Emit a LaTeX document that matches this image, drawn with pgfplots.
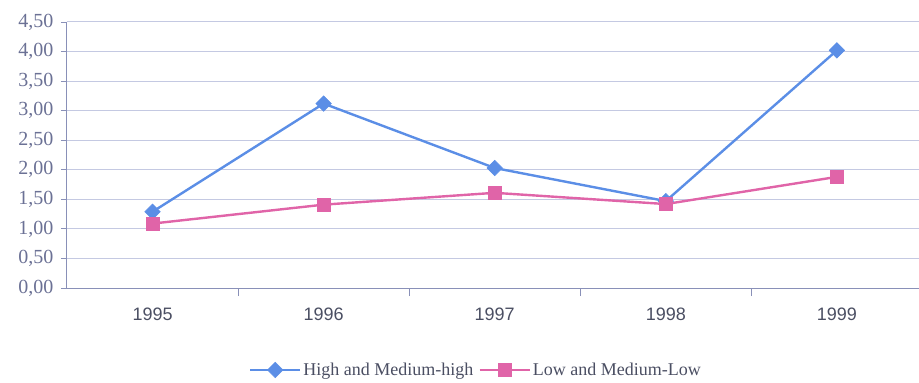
\documentclass[border=0pt]{standalone}
\usepackage{pgfplots}
\pgfplotsset{compat=1.18}
\usepackage{fontspec}
\setmainfont{Liberation Serif}
\newfontfamily\arialfont{Liberation Sans}
\definecolor{hiblue}{HTML}{5B8EE6}
\definecolor{lopink}{HTML}{E064A8}
\definecolor{gridc}{HTML}{C4C9E2}
\definecolor{axisc}{HTML}{8990B8}
\definecolor{tickc}{HTML}{6B7195}
\definecolor{xlab}{HTML}{4A4E62}
\begin{document}
\begin{tikzpicture}
\useasboundingbox (-67pt,-95pt) rectangle (852pt,288pt);
\begin{axis}[
  scale only axis,
  width=852pt, height=266pt,
  xmin=-0.5, xmax=4.48,
  ymin=0, ymax=4.5,
  axis lines=left,
  axis line style={axisc, line width=1pt, -},
  xtick={0,1,2,3,4},
  xticklabels={1995,1996,1997,1998,1999},
  major x tick style={draw=none},
  minor xtick={0.5,1.5,2.5,3.5},
  minor x tick style={axisc, line width=0.8pt},
  minor tick length=8pt,
  ytick={0,0.5,...,4.5},
  major tick length=6pt,
  tick align=outside,
  y tick style={axisc, line width=0.8pt},
  ymajorgrids,
  grid style={gridc, line width=1pt},
  /pgf/number format/assume math mode=true,
  /pgf/number format/.cd, fixed, fixed zerofill, precision=2, use comma,
  /pgfplots/.cd,
  yticklabel style={font=\fontsize{20}{22}\selectfont, text=tickc, xshift=-4pt},
  xticklabel style={font=\arialfont\fontsize{18}{20}\selectfont, text=xlab, yshift=-10pt},
  legend style={at={(0.48,-0.308)}, anchor=center, draw=none, fill=none,
    font=\fontsize{18}{20}\selectfont, text=xlab, legend columns=2,
    /tikz/every even column/.append style={column sep=3pt}},
  legend image code/.code={
    \draw[#1, mark repeat=2, mark phase=2] plot coordinates {(0pt,0pt) (25pt,0pt) (50pt,0pt)};
  },
]
\addplot[hiblue, line width=2.4pt, mark=square*, mark size=5.5pt, mark options={solid, rotate=45, fill=hiblue, line width=0.5pt}]
  coordinates {(0,1.29) (1,3.12) (2,2.03) (3,1.47) (4,4.02)};
\addlegendentry{High and Medium-high}
\addplot[lopink, line width=2.4pt, mark=square*, mark size=6.5pt, mark options={solid, fill=lopink, line width=0.5pt}]
  coordinates {(0,1.09) (1,1.41) (2,1.61) (3,1.42) (4,1.88)};
\addlegendentry{Low and Medium-Low}
\end{axis}
\end{tikzpicture}
\end{document}
